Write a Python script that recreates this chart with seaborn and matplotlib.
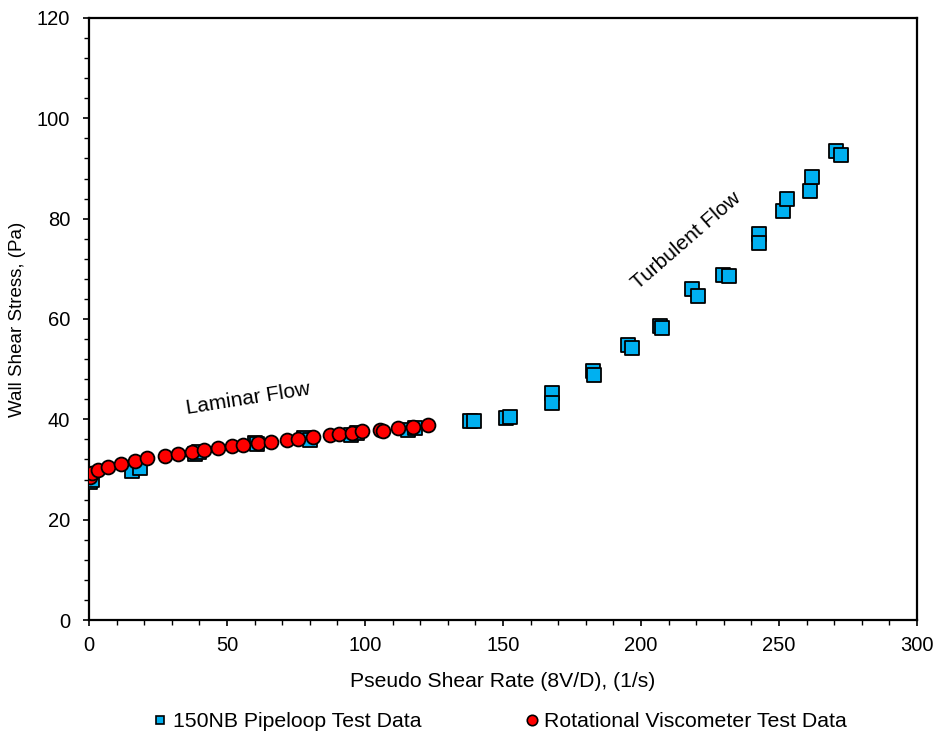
import matplotlib
matplotlib.use("Agg")
import matplotlib.pyplot as plt
import seaborn as sns
import pandas as pd
from matplotlib.lines import Line2D
from matplotlib.ticker import MultipleLocator

# Pipeloop (150NB) test data
pipe_x = [0.4, 1.0, 15.6, 18.5, 38.5, 40.0, 60.0, 61.0, 78.0, 80.0, 95.0, 97.0,
          115.6, 118.0, 138.0, 139.5, 151.0, 152.5, 167.7, 167.9, 182.6, 182.8,
          195.3, 196.7, 207.0, 207.6, 218.5, 220.7, 229.7, 231.9, 242.8, 242.9,
          251.4, 252.9, 261.2, 262.0, 270.7, 272.5]
pipe_y = [27.6, 28.0, 29.8, 30.2, 33.0, 33.4, 35.3, 35.0, 36.3, 35.8, 36.8, 37.2,
          37.8, 38.2, 39.7, 39.6, 40.2, 40.5, 45.2, 43.2, 49.6, 48.9,
          54.8, 54.2, 58.6, 58.2, 66.0, 64.6, 68.8, 68.6, 76.9, 75.2,
          81.5, 83.9, 85.5, 88.3, 93.5, 92.7]

# Rotational viscometer test data
visc_x = [0.4, 1.0, 3.3, 6.9, 11.6, 16.7, 21.0, 27.5, 32.2, 37.3, 41.7, 46.7,
          51.8, 55.8, 61.2, 65.9, 71.7, 75.7, 81.2, 87.3, 90.6, 95.3, 98.9,
          105.4, 106.5, 112.0, 117.4, 122.8]
visc_y = [28.5, 29.3, 29.9, 30.5, 31.1, 31.7, 32.2, 32.6, 33.1, 33.5, 33.9, 34.2,
          34.6, 34.9, 35.3, 35.5, 35.8, 36.0, 36.4, 36.8, 37.0, 37.2, 37.6,
          37.8, 37.7, 38.2, 38.4, 38.8]

pipe_label = "150NB Pipeloop Test Data"
visc_label = "Rotational Viscometer Test Data"
x_label = "Pseudo Shear Rate (8V/D), (1/s)"
y_label = "Wall Shear Stress, (Pa)"

sns.set_theme(style="ticks")
plt.rcParams['font.family'] = ['Liberation Sans', 'DejaVu Sans']
plt.rcParams['text.color'] = 'black'
plt.rcParams['axes.labelcolor'] = 'black'

fig = plt.figure(figsize=(9.38, 7.34), dpi=100)
ax = fig.add_axes([0.0949, 0.1553, 0.8827, 0.8202])

blue = "#00B0F0"
red = "#FF0000"

sns.scatterplot(x=pipe_x, y=pipe_y, marker="s", s=100, color=blue,
                edgecolor="black", linewidth=1.3, ax=ax, zorder=3)
sns.scatterplot(x=visc_x, y=visc_y, marker="o", s=100, color=red,
                edgecolor="black", linewidth=1.3, ax=ax, zorder=4)

ax.set_xlim(0, 300)
ax.set_ylim(0, 120)
ax.xaxis.set_major_locator(MultipleLocator(50))
ax.xaxis.set_minor_locator(MultipleLocator(10))
ax.yaxis.set_major_locator(MultipleLocator(20))
ax.yaxis.set_minor_locator(MultipleLocator(4))
ax.tick_params(which="major", direction="out", length=4.5, width=1.2,
               colors="black", labelsize=14.5)
ax.tick_params(axis="y", which="major", pad=9)
ax.tick_params(axis="x", which="major", pad=7)
ax.tick_params(which="minor", direction="out", length=3.5, width=1.0, colors="black")
ax.tick_params(axis="x", which="both", top=False)
ax.tick_params(axis="y", which="both", right=False)

for side in ["left", "bottom", "top", "right"]:
    ax.spines[side].set_visible(True)
    ax.spines[side].set_color("black")
    ax.spines[side].set_linewidth(1.6)

ax.set_xlabel(x_label, fontsize=15.2, color="black", labelpad=12)
ax.set_ylabel(y_label, fontsize=13.5, color="black", labelpad=8)

ax.text(57.6, 44.2, "Laminar Flow", fontsize=15, rotation=9, color="black",
        ha="center", va="center", rotation_mode="anchor")
ax.text(216.3, 75.7, "Turbulent Flow", fontsize=15, rotation=41, color="black",
        ha="center", va="center", rotation_mode="anchor")

handles = [
    Line2D([], [], marker="s", linestyle="none", markersize=6,
           markerfacecolor=blue, markeredgecolor="black", markeredgewidth=1.2),
    Line2D([], [], marker="o", linestyle="none", markersize=7.5,
           markerfacecolor=red, markeredgecolor="black", markeredgewidth=1.2),
]
leg = fig.legend(handles, [pipe_label, visc_label], loc="center",
                 bbox_to_anchor=(0.531, 0.017), ncol=2, frameon=False, fontsize=15.3,
                 handletextpad=0.1, columnspacing=4.7, handlelength=1.0)
for t in leg.get_texts():
    t.set_color("black")

fig.savefig("out.png", dpi=100)
